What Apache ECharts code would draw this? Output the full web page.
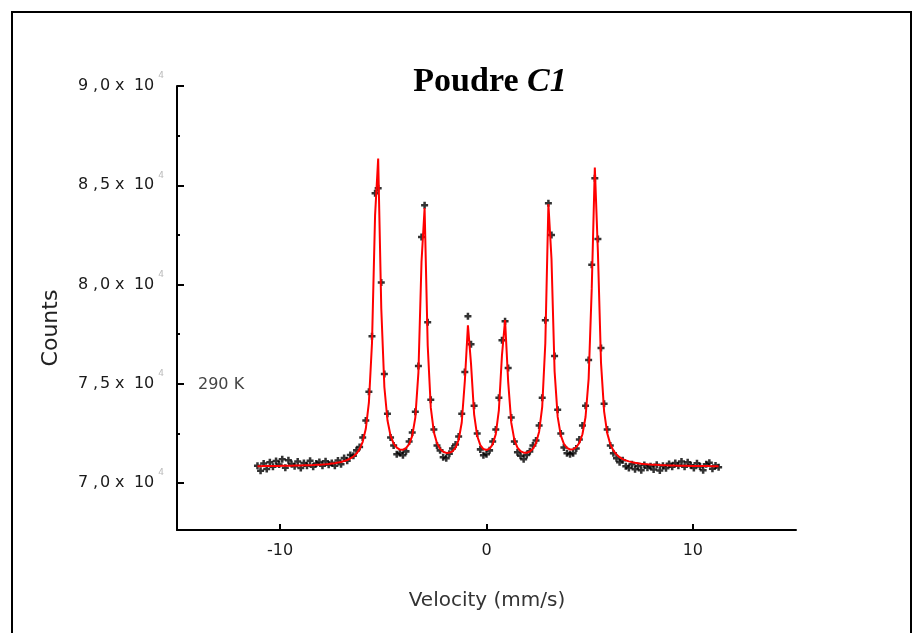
<!DOCTYPE html>
<html>
<head>
<meta charset="utf-8">
<script src="https://cdn.jsdelivr.net/npm/echarts@6/dist/echarts.min.js"></script>
<style>
html,body{margin:0;padding:0;background:#fff;}
#c{width:915px;height:633px;}
</style>
</head>
<body>
<div id="c"></div>
<script>
// Velocity channels (mm/s)
const velocity = [
-11.10,-10.95,-10.80,-10.65,-10.50,-10.35,-10.20,-10.05,-9.90,-9.75,
-9.60,-9.45,-9.30,-9.15,-9.00,-8.85,-8.70,-8.55,-8.40,-8.25,
-8.10,-7.95,-7.80,-7.65,-7.50,-7.35,-7.20,-7.05,-6.90,-6.75,
-6.60,-6.45,-6.30,-6.15,-6.00,-5.85,-5.70,-5.55,-5.40,-5.25,
-5.10,-4.95,-4.80,-4.65,-4.50,-4.35,-4.20,-4.05,-3.90,-3.75,
-3.60,-3.45,-3.30,-3.15,-3.00,-2.85,-2.70,-2.55,-2.40,-2.25,
-2.10,-1.95,-1.80,-1.65,-1.50,-1.35,-1.20,-1.05,-0.90,-0.75,
-0.60,-0.45,-0.30,-0.15,0.00,0.15,0.30,0.45,0.60,0.75,
0.90,1.05,1.20,1.35,1.50,1.65,1.80,1.95,2.10,2.25,
2.40,2.55,2.70,2.85,3.00,3.15,3.30,3.45,3.60,3.75,
3.90,4.05,4.20,4.35,4.50,4.65,4.80,4.95,5.10,5.25,
5.40,5.55,5.70,5.85,6.00,6.15,6.30,6.45,6.60,6.75,
6.90,7.05,7.20,7.35,7.50,7.65,7.80,7.95,8.10,8.25,
8.40,8.55,8.70,8.85,9.00,9.15,9.30,9.45,9.60,9.75,
9.90,10.05,10.20,10.35,10.50,10.65,10.80,10.95,11.10,11.25
];
// Measured counts (black crosses)
const counts = [
70880,70620,70990,70710,71050,70830,71120,70940,71200,70780,
71150,70960,70850,71090,70760,71010,70880,71130,70820,70990,
71060,70870,71100,70930,71020,70880,71140,70950,71260,71130,
71420,71380,71650,71820,72300,73150,74600,77400,84600,84850,
80100,75500,73500,72300,71900,71450,71520,71400,71600,72100,
72550,73600,75900,82400,84000,78100,74200,72700,71900,71650,
71300,71250,71480,71750,71950,72350,73500,75600,78400,77000,
73900,72500,71700,71400,71450,71650,72100,72700,74300,77200,
78150,75800,73300,72100,71550,71380,71200,71420,71600,71900,
72150,72900,74300,78200,84100,82500,76400,73700,72500,71800,
71500,71450,71500,71750,72200,72900,73900,76200,81000,85350,
82300,76800,74000,72700,71900,71500,71250,71050,71150,70850,
70760,70950,70700,70860,70650,70910,70780,70850,70690,70920,
70640,70880,70750,70970,70820,71010,70880,71090,70830,71050,
70900,70760,71000,70840,70650,70950,71030,70720,70890,70800
];
// Fitted curve (red)
const fit = [
70855,70856,70858,70859,70861,70863,70865,70867,70870,70873,
70876,70879,70883,70887,70891,70896,70901,70907,70914,70922,
70931,70941,70953,70968,70988,71007,71034,71066,71111,71166,
71240,71342,71489,71714,72081,72736,74050,77046,83490,86350,
78807,74841,73166,72388,71992,71786,71689,71681,71760,71960,
72381,73300,75565,81134,83850,76945,73802,72565,72005,71725,
71582,71521,71526,71602,71785,72174,73053,75144,77950,76008,
73467,72373,71911,71716,71667,71734,71955,72468,73681,76450,
78215,75110,73046,72180,71792,71610,71534,71530,71592,71737,
72022,72589,73845,77036,84050,81287,75633,73335,72402,71975,
71772,71694,71706,71807,72030,72463,73331,75248,79783,85900,
81616,76055,73614,72519,71958,71638,71438,71306,71213,71146,
71096,71057,71026,71002,70982,70965,70951,70939,70929,70920,
70912,70905,70899,70894,70890,70885,70881,70878,70875,70872,
70869,70867,70865,70863,70861,70859,70857,70856,70854,70853
];
// Axis ticks and labels
const xTicks = [-10, 0, 10];
const yTicks = [70000, 75000, 80000, 85000, 90000];
const yTickMantissa = ['7,0', '7,5', '8,0', '8,5', '9,0'];
const yTickExponent = '4';
const yMinorTicks = [72500, 77500, 82500, 87500];

const chart = echarts.init(document.getElementById('c'), null, {renderer: 'canvas'});
const lblFont = 'DejaVu Sans';
const lblColor = '#1a1a1a';
const option = {
  animation: false,
  backgroundColor: '#fff',
  grid: {left: 177, right: 119, top: 86, bottom: 103, containLabel: false},
  xAxis: {
    type: 'value', min: -15, max: 15,
    axisLine: {show: true, onZero: false, lineStyle: {color: '#000', width: 2}},
    axisTick: {show: true, inside: true, length: 6, customValues: xTicks, lineStyle: {color: '#000', width: 2}},
    axisLabel: {show: true, customValues: xTicks, margin: 13, fontFamily: lblFont, fontSize: 16, color: lblColor},
    splitLine: {show: false}
  },
  yAxis: [{
    type: 'value', min: 67640, max: 90000, position: 'left',
    axisLine: {show: true, onZero: false, lineStyle: {color: '#000', width: 2}},
    axisTick: {show: true, inside: true, length: 7, customValues: yTicks, lineStyle: {color: '#000', width: 2}},
    axisLabel: {
      show: true, customValues: yTicks, margin: 13,
      formatter: function (v) {
        const i = yTicks.indexOf(v);
        const m = yTickMantissa[i] || '';
        const parts = m.split(',');
        return '{d|' + parts[0] + '}{c|,}{f|' + parts[1] + '}{x|x}{t|10}{e|' + yTickExponent + '}';
      },
      rich: {
        d: {fontFamily: lblFont, fontSize: 16, color: lblColor, width: 15, align: 'left'},
        c: {fontFamily: lblFont, fontSize: 16, color: lblColor, width: 7, align: 'left'},
        f: {fontFamily: lblFont, fontSize: 16, color: lblColor, width: 15, align: 'left'},
        x: {fontFamily: lblFont, fontSize: 16, color: lblColor, width: 19, align: 'left'},
        t: {fontFamily: lblFont, fontSize: 16, color: lblColor},
        e: {fontFamily: lblFont, fontSize: 9, color: '#bbb', padding: [0, 0, 20, 4]}
      }
    },
    splitLine: {show: false}
  }, {
    type: 'value', min: 67640, max: 90000, position: 'left',
    axisLine: {show: false, onZero: false},
    axisTick: {show: true, inside: true, length: 3, customValues: yMinorTicks, lineStyle: {color: '#000', width: 2}},
    axisLabel: {show: false},
    splitLine: {show: false}
  }],
  graphic: [
    {type: 'rect', shape: {x: 12, y: 12, width: 899, height: 700}, style: {fill: 'none', stroke: '#000', lineWidth: 2}, silent: true},
    {type: 'text', x: 490, y: 82, style: {
      text: '{a|Poudre }{b|C1}', align: 'center', verticalAlign: 'middle',
      rich: {
        a: {fontFamily: 'Liberation Serif', fontWeight: 'bold', fontSize: 34, fill: '#000'},
        b: {fontFamily: 'Liberation Serif', fontWeight: 'bold', fontStyle: 'italic', fontSize: 34, fill: '#000'}
      }
    }},
    {type: 'text', x: 51, y: 328, rotation: Math.PI / 2, style: {
      text: 'Counts', align: 'center', verticalAlign: 'middle',
      font: '22px "DejaVu Sans"', fill: '#222'
    }},
    {type: 'text', x: 487, y: 601, style: {
      text: 'Velocity (mm/s)', align: 'center', verticalAlign: 'middle',
      font: '20px "DejaVu Sans"', fill: '#333'
    }},
    {type: 'text', x: 198, y: 385, style: {
      text: '290 K', align: 'left', verticalAlign: 'middle',
      font: '16px "DejaVu Sans"', fill: '#444'
    }}
  ],
  series: [{
    type: 'scatter', name: 'data', xAxisIndex: 0, yAxisIndex: 0,
    data: velocity.map((v, i) => [v, counts[i]]),
    symbol: 'path://M1.6,0H3.4V1.6H5V3.4H3.4V5H1.6V3.4H0V1.6H1.6Z',
    symbolSize: 7,
    itemStyle: {color: '#000'},
    z: 2
  }, {
    type: 'line', name: 'fit', xAxisIndex: 0, yAxisIndex: 0,
    data: velocity.map((v, i) => [v, fit[i]]),
    showSymbol: false, symbol: 'none',
    lineStyle: {color: '#ff0000', width: 2},
    z: 3
  }]
};
chart.setOption(option);
</script>
</body>
</html>
